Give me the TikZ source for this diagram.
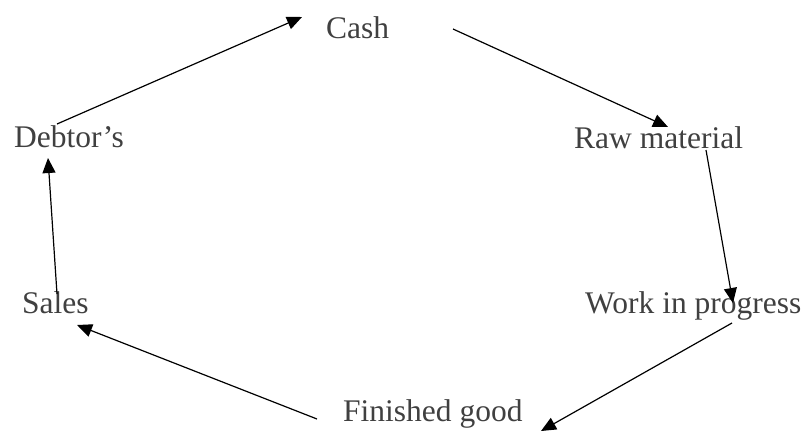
\documentclass[tikz,border=0pt]{standalone}
\usepackage{fontspec}
\setmainfont{Liberation Serif}
\usetikzlibrary{arrows.meta}
\definecolor{txt}{HTML}{404040}
\begin{document}
\begin{tikzpicture}[x=1pt,y=-1pt,
  lbl/.style={anchor=base west,inner sep=0pt,text=txt,font=\fontsize{31.5}{36}\selectfont},
  flow/.style={line width=1.2pt,-{Triangle[length=15pt,width=13pt]}}]
\useasboundingbox (0,0) rectangle (809,431);
\node[lbl] (cash) at (326,38) {Cash};
\node[lbl] (debt) at (14,147) {Debtor’s};
\node[lbl] (raw) at (574,148) {Raw material};
\node[lbl] (wip) at (585,313) {Work in progress};
\node[lbl] (sales) at (22,313) {Sales};
\node[lbl] (fin) at (343,421) {Finished good};
\coordinate (d1) at (57,124);  \coordinate (c1) at (302,17);
\coordinate (c2) at (453,29);  \coordinate (r1) at (668,127);
\coordinate (r2) at (706,150); \coordinate (w1) at (733,303);
\coordinate (w2) at (732,323); \coordinate (f1) at (541,431);
\coordinate (f2) at (317,419); \coordinate (s1) at (77,325);
\coordinate (s2) at (57,294);  \coordinate (e1) at (48,158);
\draw[flow] (d1) -- (c1);
\draw[flow] (c2) -- (r1);
\draw[flow] (r2) -- (w1);
\draw[flow] (w2) -- (f1);
\draw[flow] (f2) -- (s1);
\draw[flow] (s2) -- (e1);
\end{tikzpicture}
\end{document}
